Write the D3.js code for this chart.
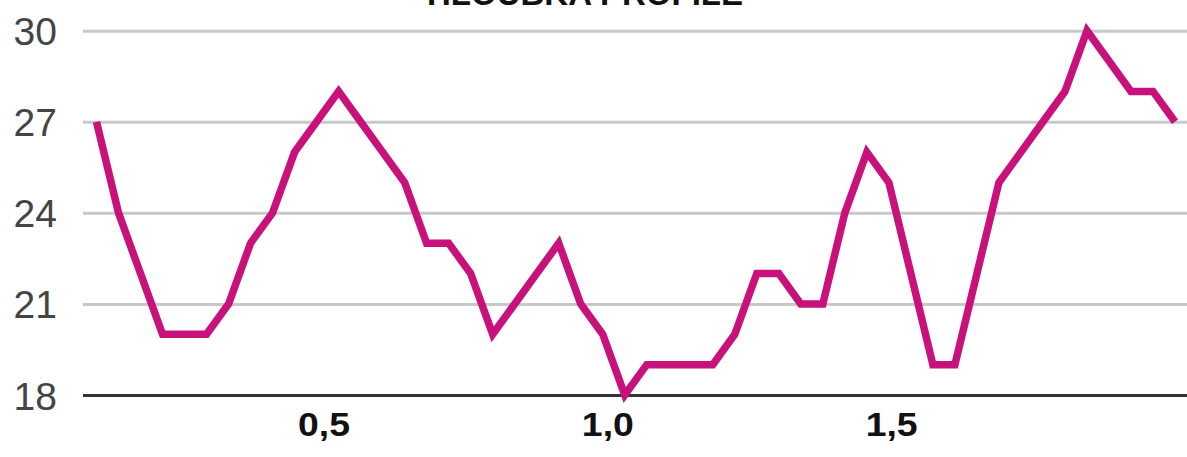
<!DOCTYPE html>
<html>
<head>
<meta charset="utf-8">
<script src="https://cdn.jsdelivr.net/npm/d3@7"></script>
<style>
  html, body { margin: 0; padding: 0; background: #fff; }
  svg { display: block; }
</style>
</head>
<body>
<svg id="chart" width="1187" height="457"></svg>
<script>
// ---- data ----
const title = "HLOUBKA PROFILE";
const values = [27, 24, 22, 20, 20, 20, 21, 23, 24, 26,
                27, 28, 27, 26, 25, 23, 23, 22, 20, 21,
                22, 23, 21, 20, 18, 19, 19, 19, 19, 20,
                22, 22, 21, 21, 24, 26, 25, 22, 19, 19,
                22, 25, 26, 27, 28, 30, 29, 28, 28, 27];
const xDomain = [0.1, 2.0];
const xTicks = [0.5, 1.0, 1.5];
const yTicks = [18, 21, 24, 27, 30];

// ---- layout ----
const svg = d3.select("#chart");
const W = 1187;
const plotLeft = 83, lineLeft = 96.5, lineRight = 1175;
const yTop = 30.7, yBottom = 395;

const xIdx = d3.scaleLinear().domain([0, values.length - 1]).range([lineLeft, lineRight]);
const xAxisScale = d3.scaleLinear().domain(xDomain).range([lineLeft, lineRight]);
const y = d3.scaleLinear().domain([18, 30]).range([yBottom, yTop]);

// title (mostly above the visible area, as in the reference)
svg.append("text")
  .attr("x", 585).attr("y", 5)
  .attr("text-anchor", "middle")
  .attr("font-family", "Liberation Sans, Arial, sans-serif")
  .attr("font-weight", "bold")
  .attr("font-size", 33)
  .attr("fill", "#111")
  .text(title);

// gridlines + y labels
const yAxis = d3.axisLeft(y).tickValues(yTicks).tickSize(-(W - plotLeft)).tickFormat(d => d);
const gy = svg.append("g").attr("transform", `translate(${plotLeft},0)`).call(yAxis);
gy.select(".domain").remove();
gy.selectAll(".tick line")
  .attr("stroke", d => d === 18 ? "#333" : "#c8c8c8")
  .attr("stroke-width", 3);
gy.selectAll(".tick text")
  .attr("x", -26)
  .attr("dy", "0.36em")
  .attr("font-family", "Liberation Sans, Arial, sans-serif")
  .attr("font-size", 39)
  .attr("fill", "#444");

// x axis labels
const xAxis = d3.axisBottom(xAxisScale).tickValues(xTicks).tickSize(0)
  .tickFormat(d => d3.format(".1f")(d).replace(".", ","));
const gx = svg.append("g").attr("transform", `translate(0,${yBottom})`).call(xAxis);
gx.select(".domain").remove();
gx.selectAll(".tick text")
  .attr("y", 0)
  .attr("dy", 0)
  .attr("font-family", "Liberation Sans, Arial, sans-serif")
  .attr("font-weight", "bold")
  .attr("font-size", 34)
  .attr("fill", "#111")
  .attr("transform", "translate(0,41) scale(1.1,1)");

// line
const line = d3.line().x((d, i) => xIdx(i)).y(d => y(d));
svg.append("path")
  .datum(values)
  .attr("d", line)
  .attr("fill", "none")
  .attr("stroke", "#c8117a")
  .attr("stroke-width", 7.5)
  .attr("stroke-linejoin", "miter");
</script>
</body>
</html>
